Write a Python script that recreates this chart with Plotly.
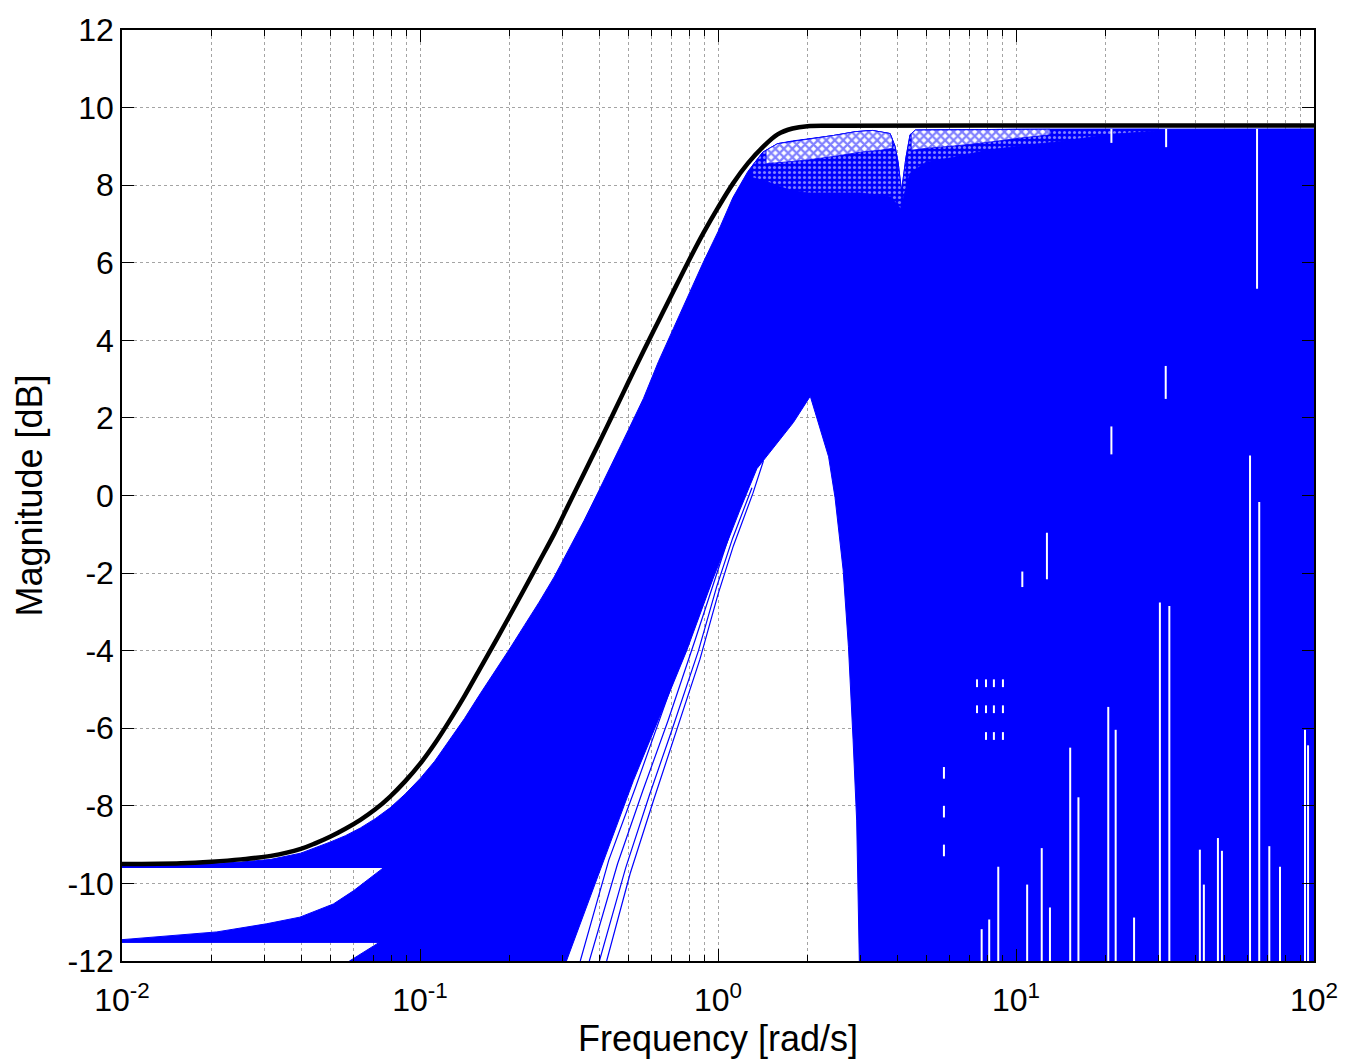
import math
import plotly.graph_objects as go

# ---------------- data ----------------
# nominal (black) magnitude curve
nom_f  = [0.01, 0.0158, 0.02, 0.0251, 0.0316, 0.0398, 0.0447, 0.0501, 0.0562, 0.0631, 0.0708, 0.0794,
          0.0891, 0.1, 0.112, 0.126, 0.141, 0.158, 0.178, 0.2, 0.224, 0.251, 0.282, 0.316, 0.355,
          0.398, 0.447, 0.501, 0.562, 0.631, 0.708, 0.794, 0.891, 1.0, 1.122, 1.259, 1.413, 1.585,
          1.778, 1.995, 2.51, 10, 100]
nom_db = [-9.50, -9.48, -9.44, -9.38, -9.29, -9.11, -8.96, -8.79, -8.59, -8.36, -8.09, -7.76,
          -7.37, -6.92, -6.40, -5.79, -5.17, -4.50, -3.80, -3.10, -2.41, -1.71, -0.99, -0.22, 0.57,
          1.34, 2.14, 2.93, 3.72, 4.49, 5.26, 6.02, 6.75, 7.42, 8.04, 8.56, 8.98, 9.31,
          9.46, 9.52, 9.53, 9.54, 9.54]

# upper envelope of the perturbed (blue) family
env_f  = [0.01, 0.0158, 0.02, 0.0251, 0.0316, 0.0398, 0.0447, 0.0501, 0.0562, 0.0631, 0.0708, 0.0794,
          0.0891, 0.1, 0.112, 0.126, 0.141, 0.158, 0.178, 0.2, 0.224, 0.251, 0.282, 0.316, 0.355,
          0.398, 0.447, 0.501, 0.562, 0.631, 0.708, 0.794, 0.891, 1.0, 1.122, 1.259, 1.413, 1.585,
          1.778, 1.995, 2.44, 2.9, 3.3, 3.78, 3.93, 4.02, 4.13, 4.27, 4.41, 4.6, 10, 100]
env_db = [-9.53, -9.51, -9.49, -9.45, -9.38, -9.22, -9.08, -8.93, -8.77, -8.57, -8.33, -8.05,
          -7.70, -7.30, -6.85, -6.30, -5.75, -5.15, -4.55, -3.95, -3.35, -2.75, -2.10, -1.40, -0.65,
          0.12, 0.90, 1.70, 2.50, 3.45, 4.30, 5.15, 6.00, 6.80, 7.68, 8.35, 8.85, 9.07,
          9.14, 9.19, 9.28, 9.38, 9.41, 9.33, 9.0, 8.6, 7.85, 8.7, 9.3, 9.42, 9.44, 9.45]

# white gap (right side) below the family: right edge, from bottom up to the peak
gapR_f  = [2.98, 2.92, 2.84, 2.74, 2.63, 2.47, 2.35, 2.14, 2.04]
gapR_db = [-12.0, -8.39, -6.3, -3.9, -1.92, -0.05, 1.0, 2.04, 2.56]
# solid left edge of that gap, from the peak down
gapL_f  = [1.79, 1.42, 1.35, 1.186, 0.964, 0.785, 0.52, 0.31]
gapL_db = [1.88, 0.89, 0.69, -0.36, -2.13, -4.0, -7.35, -12.0]

# low-frequency bands
low_corner_f  = [0.058, 0.073]
low_corner_db = [-12.0, -11.52]
lowband_bottom_db = -11.52
lowband_top_f  = [0.01, 0.0208, 0.0306, 0.0395, 0.0512, 0.0598, 0.0753]
lowband_top_db = [-11.45, -11.25, -11.04, -10.87, -10.53, -10.19, -9.60]
upband_join_f = 0.077
upband_bottom_db = -9.59

# lace zone (crossing arcs) bottom limit
lace_f  = [1.3, 1.45, 1.7, 2.0, 3.0, 3.8, 4.1, 4.4, 5, 6, 8, 10, 15, 20, 30]
lace_db = [8.2, 8.1, 7.9, 7.8, 7.8, 7.7, 7.4, 8.3, 8.6, 8.7, 8.9, 9.0, 9.15, 9.3, 9.4]
# upper, more open part of the lace (two pieces either side of the notch)
strip1_f  = [1.45, 1.7, 2.0, 2.5, 3.0, 3.5, 3.85]
strip1_db = [8.55, 8.6, 8.65, 8.75, 8.85, 8.9, 8.95]
strip2_f  = [4.45, 5.0, 6.0, 8.0, 10.0, 13.0]
strip2_db = [8.9, 8.95, 9.0, 9.1, 9.2, 9.3]

# individual steep responses in the streak zone
streak_lines = [
    ([0.423, 0.507, 0.607, 0.708, 0.87, 1.0, 1.126, 1.31, 1.42],
     [-12.0, -9.75, -7.87, -6.3, -4.22, -2.55, -1.3, 0.06, 0.89]),
    ([0.40, 0.49, 0.59, 0.70, 0.86, 0.99, 1.12, 1.30],
     [-12.0, -9.6, -7.7, -6.05, -4.0, -2.35, -1.1, 0.2]),
    ([0.37, 0.46, 0.56, 0.68, 0.84, 0.98, 1.11],
     [-12.0, -9.5, -7.6, -5.8, -3.7, -2.1, -0.85]),
    ([0.345, 0.43, 0.53, 0.65, 0.82],
     [-12.0, -9.4, -7.5, -5.6, -3.4]),
]

# white vertical gaps in the high-frequency part: (freq, top dB, bottom dB)
gaps = [
    (61.0, 1.03, -12), (65.5, -0.17, -12), (30.4, -2.76, -12), (32.7, -2.85, -12),
    (20.4, -5.45, -12), (21.6, -6.04, -12), (15.2, -6.5, -12), (16.2, -7.78, -12),
    (93.3, -6.04, -12), (95.5, -6.44, -12), (41.4, -9.13, -12), (42.7, -10.03, -12),
    (47.6, -8.83, -12), (49.1, -9.16, -12), (70.8, -9.04, -12), (76.9, -9.57, -12),
    (12.2, -9.09, -12), (13.0, -10.62, -12), (10.9, -10.03, -12), (8.72, -9.57, -12),
    (8.13, -10.93, -12), (7.67, -11.18, -12), (24.9, -10.88, -12),
    (64.4, 9.45, 5.33), (20.9, 1.78, 1.06), (31.8, 3.34, 2.49), (20.9, 9.45, 9.09),
    (31.9, 9.45, 8.98), (12.7, -0.96, -2.16), (10.5, -1.96, -2.36),
    (7.40, -4.74, -4.94), (7.93, -4.74, -4.94), (8.43, -4.74, -4.94), (9.04, -4.74, -4.94),
    (7.40, -5.41, -5.61), (7.93, -5.41, -5.61), (8.43, -5.41, -5.61), (9.04, -5.41, -5.61),
    (7.93, -6.1, -6.3), (8.43, -6.1, -6.3), (9.04, -6.1, -6.3),
    (5.73, -7.0, -7.3), (5.73, -8.0, -8.3), (5.73, -9.0, -9.3),
]

y_ticks = list(range(-12, 13, 2))
x_ticks = [0.01, 0.1, 1, 10, 100]
x_ticktext = ["10<sup>-2</sup>", "10<sup>-1</sup>", "10<sup>0</sup>", "10<sup>1</sup>", "10<sup>2</sup>"]

# ---------------- build the figure ----------------
BLUE = "rgb(0,0,255)"
fig = go.Figure()

# main blue family outline (single simple polygon around the holes)
px = list(env_f) + [100] + gapR_f + gapL_f + low_corner_f + [0.01] + lowband_top_f + [upband_join_f, 0.01, env_f[0]]
py = list(env_db) + [-12.0] + gapR_db + gapL_db + low_corner_db + [lowband_bottom_db] + lowband_top_db + \
     [upband_bottom_db, upband_bottom_db, env_db[0]]
fig.add_trace(go.Scatter(x=px, y=py, mode="lines", fill="toself", fillcolor=BLUE,
                         line=dict(color=BLUE, width=1), hoverinfo="skip", showlegend=False))


def env_at(f):
    for i in range(len(env_f) - 1):
        if env_f[i] <= f <= env_f[i + 1]:
            t = (math.log10(f) - math.log10(env_f[i])) / (math.log10(env_f[i + 1]) - math.log10(env_f[i]))
            return env_db[i] + t * (env_db[i + 1] - env_db[i])
    return env_db[-1]


def zone(bf, bd):
    lo, hi = bf[0], bf[-1]
    seg = [(f, d) for f, d in zip(env_f, env_db) if lo < f < hi]
    zx = list(bf) + [hi] + [f for f, d in reversed(seg)] + [lo, lo]
    zy = list(bd) + [env_at(hi)] + [d for f, d in reversed(seg)] + [env_at(lo), bd[0]]
    return zx, zy


# lace zone with crossing arcs (blue with small white cells)
lx, ly = zone(lace_f, lace_db)
fig.add_trace(go.Scatter(x=lx, y=ly, mode="lines", fill="toself",
                         fillpattern=dict(shape=".", fgcolor="white", bgcolor=BLUE, size=5, solidity=0.3),
                         line=dict(color=BLUE, width=0.8), hoverinfo="skip", showlegend=False))
for bf, bd in ((strip1_f, strip1_db), (strip2_f, strip2_db)):
    sx, sy = zone(bf, bd)
    fig.add_trace(go.Scatter(x=sx, y=sy, mode="lines", fill="toself",
                             fillpattern=dict(shape="x", fgcolor=BLUE, bgcolor="white", size=6, solidity=0.6),
                             line=dict(color=BLUE, width=0.8), hoverinfo="skip", showlegend=False))

# streak lines
for sf, sd in streak_lines:
    fig.add_trace(go.Scatter(x=sf, y=sd, mode="lines", line=dict(color=BLUE, width=1.2),
                             hoverinfo="skip", showlegend=False))

# white gaps
gx, gy = [], []
for f, t, b in gaps:
    gx += [f, f, None]
    gy += [t, b, None]
fig.add_trace(go.Scatter(x=gx, y=gy, mode="lines", line=dict(color="white", width=2),
                         hoverinfo="skip", showlegend=False))

# nominal
fig.add_trace(go.Scatter(x=nom_f, y=nom_db, mode="lines",
                         line=dict(color="black", width=4.5, shape="spline", smoothing=1.0),
                         hoverinfo="skip", showlegend=False))

minor_vals = [k * 10 ** e for e in range(-2, 2) for k in range(2, 10)]
grid = dict(gridcolor="rgba(90,90,90,0.55)", griddash="dot", gridwidth=1)
font = dict(family="Liberation Sans, Arial, sans-serif", color="black")

fig.update_layout(
    width=1362, height=1063,
    margin=dict(l=122, r=48, t=22, b=102, pad=0),
    paper_bgcolor="white", plot_bgcolor="white",
    font=dict(size=32, **font),
    showlegend=False,
)
fig.update_xaxes(
    type="log", range=[-2, 2],
    tickvals=x_ticks, ticktext=x_ticktext,
    ticks="inside", ticklen=12, tickwidth=1.3, tickcolor="black",
    showline=True, linecolor="black", linewidth=1.5, mirror="ticks",
    showgrid=True, **grid,
    minor=dict(tickvals=minor_vals, ticks="inside", ticklen=6, tickwidth=1, tickcolor="black",
               showgrid=True, **grid),
    zeroline=False, ticklabelstandoff=10,
    title=dict(text="Frequency [rad/s]", font=dict(size=36, **font), standoff=4),
    tickfont=dict(size=32, **font),
)
fig.update_yaxes(
    range=[-12, 12], tickvals=y_ticks, ticktext=[str(v) for v in y_ticks],
    ticks="inside", ticklen=12, tickwidth=1.3, tickcolor="black",
    showline=True, linecolor="black", linewidth=1.5, mirror="ticks",
    showgrid=True, **grid, zeroline=False,
    title=dict(text="Magnitude [dB]", font=dict(size=36, **font), standoff=14),
    tickfont=dict(size=32, **font),
)

fig.write_html("out.html")
